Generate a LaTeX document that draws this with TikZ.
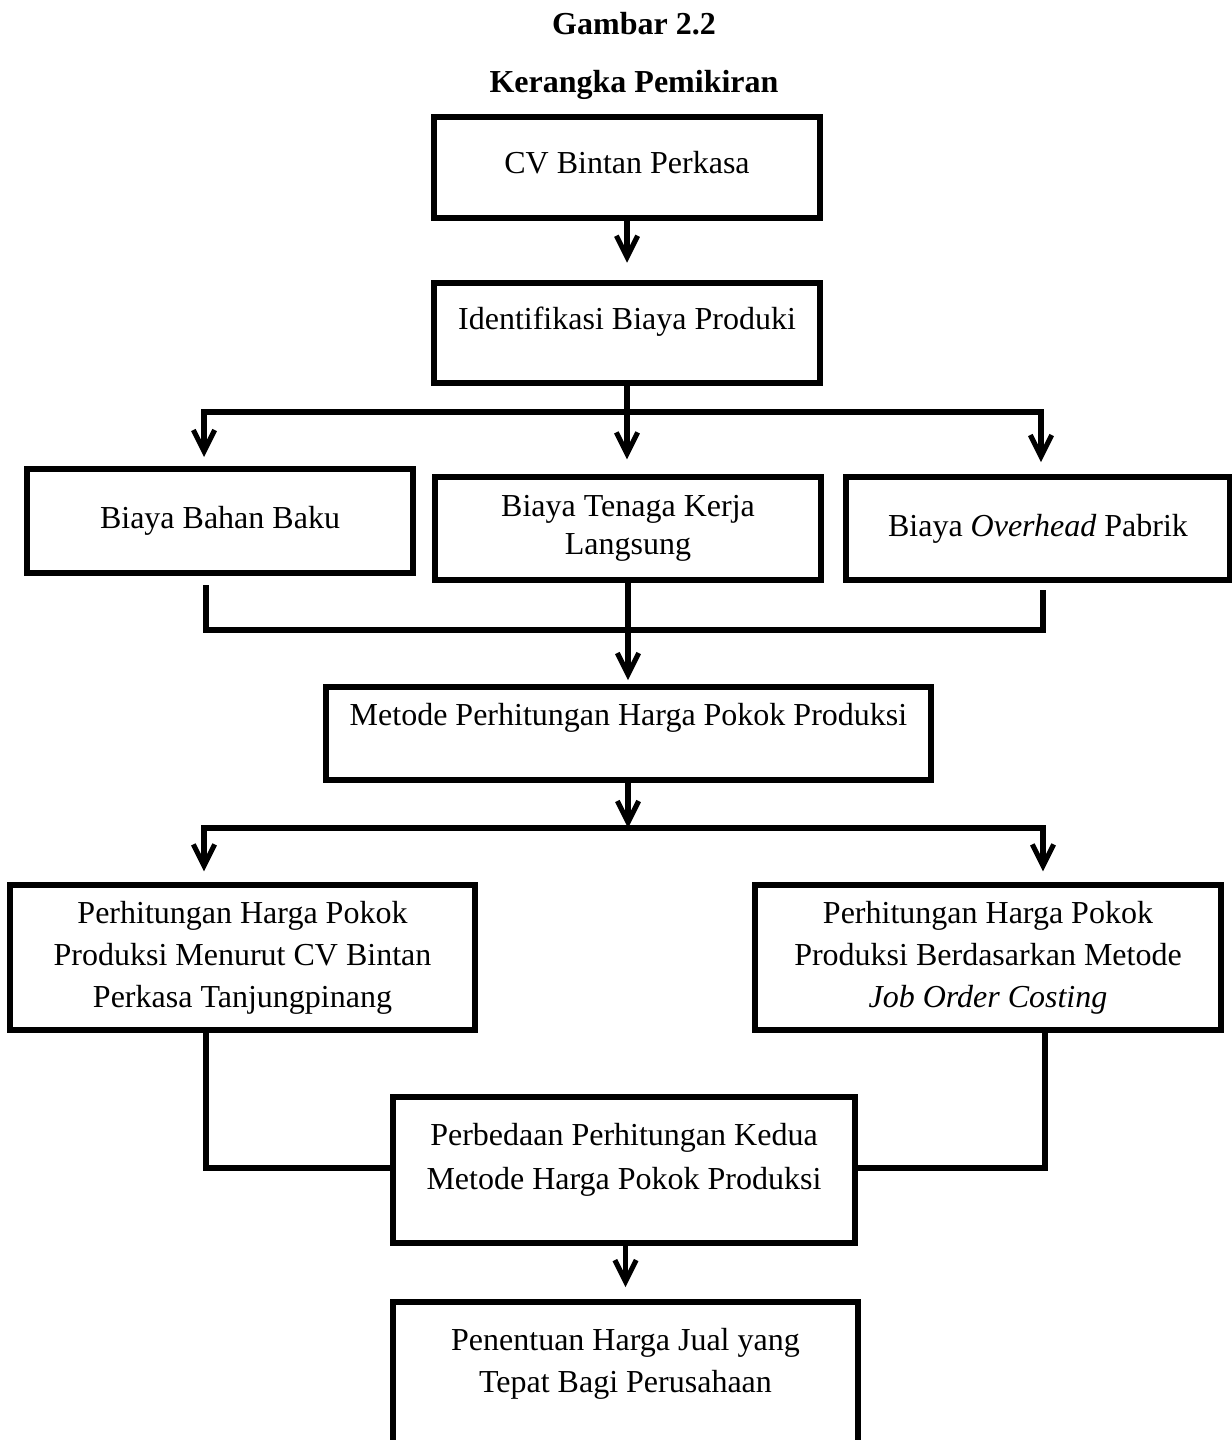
\documentclass[tikz,border=0pt]{standalone}
\usepackage{fontspec}
\setmainfont{Liberation Serif}
\usetikzlibrary{arrows.meta,shadows,calc}
\def\u{0.375pt}
\begin{document}
\begin{tikzpicture}[x=0.375pt,y={(0,-0.375pt)},
  box/.style={draw, fill=white, line width=2.2pt, rectangle, align=center, inner sep=0pt,
    font=\fontsize{12}{15.75}\selectfont,
    drop shadow={shadow xshift=0.9pt,shadow yshift=-0.9pt,fill=black!30,opacity=0.6}},
  ttl/.style={font=\fontsize{12}{14}\selectfont\bfseries, inner sep=0pt},
  conn/.style={line width=1.9pt, line cap=rect},
  arr/.style={line width=1.9pt, -{Straight Barb[length=8pt,width=8pt,line width=1.9pt]}}
]
\useasboundingbox (0,0) rectangle (1231,1440);

\node[ttl] (t1) at (634,24) {Gambar 2.2};
\node[ttl] (t2) at (634,85) {Kerangka Pemikiran};

\node[box, minimum width=386*\u, minimum height=101*\u, text depth=3.5pt] (b1) at (627,167.5) {CV Bintan Perkasa};
\node[box, minimum width=386*\u, minimum height=100*\u, text depth=10.8pt] (b2) at (627,333) {Identifikasi Biaya Produki};
\node[box, minimum width=386*\u, minimum height=104*\u] (b3) at (220,521) {Biaya Bahan Baku};
\node[box, minimum width=386*\u, minimum height=103*\u, font=\fontsize{12}{14}\selectfont] (b4) at (628,528.5) {Biaya Tenaga Kerja\\Langsung};
\node[box, minimum width=384*\u, minimum height=103*\u] (b5) at (1038,528.5) {Biaya \textit{Overhead} Pabrik};
\node[box, minimum width=605*\u, minimum height=93*\u, text depth=14.2pt] (b6) at (628.5,733.5) {Metode Perhitungan Harga Pokok Produksi};
\node[box, minimum width=465*\u, minimum height=145*\u] (b7) at (242.5,957.5) {Perhitungan Harga Pokok\\Produksi Menurut CV Bintan\\Perkasa Tanjungpinang};
\node[box, minimum width=466*\u, minimum height=145*\u] (b8) at (988,957.5) {Perhitungan Harga Pokok\\Produksi Berdasarkan Metode\\\textit{Job Order Costing}};
\node[box, minimum width=462*\u, minimum height=146*\u, text depth=10.1pt, font=\fontsize{12}{16.5}\selectfont] (b9) at (624,1170) {Perbedaan Perhitungan Kedua\\Metode Harga Pokok Produksi};
\node[box, minimum width=465*\u, minimum height=148*\u, text depth=11.6pt] (b10) at (625.5,1376) {Penentuan Harga Jual yang\\Tepat Bagi Perusahaan};

% junction coordinates
\coordinate (hl) at (204,412);
\coordinate (hr) at (1041,412);
\coordinate (ml) at (206,630);
\coordinate (mr) at (1043,630);
\coordinate (j2) at (628,828);
\coordinate (hl2) at (204,828);
\coordinate (hr2) at (1043,828);
\coordinate (kl) at (206,1168);
\coordinate (kr) at (1045,1168);

% connectors
\draw[arr, shorten >=6.5pt] (b1.south) -- (b2.north);
\draw[arr, shorten >=5.5pt] (b2.south) -- (b2.south |- b4.north);
\draw[conn] (hl) -- (hr);
\draw[arr, shorten >=3.4pt] (hl) -- (hl |- b3.north);
\draw[arr, shorten >=4.5pt] (hr) -- (hr |- b5.north);

\draw[conn] ([yshift=-4.5pt]b3.south -| ml) -- (ml) -- (mr) -- ([yshift=-3.5pt]b5.south -| mr);
\draw[arr, shorten >=1.5pt] (b4.south) -- (b4.south |- b6.north);

\draw[arr] (b6.south -| j2) -- (j2);
\draw[conn] (hl2) -- (hr2);
\draw[arr, shorten >=4pt] (hl2) -- (hl2 |- b7.north);
\draw[arr, shorten >=4pt] (hr2) -- (hr2 |- b8.north);

\draw[conn] (b7.south -| kl) -- (kl) -- (kl -| b9.west);
\draw[conn] (b8.south -| kr) -- (kr) -- (kr -| b9.east);
\draw[arr, shorten >=4.5pt] (b9.south -| b10.north) -- (b10.north);
\end{tikzpicture}
\end{document}
